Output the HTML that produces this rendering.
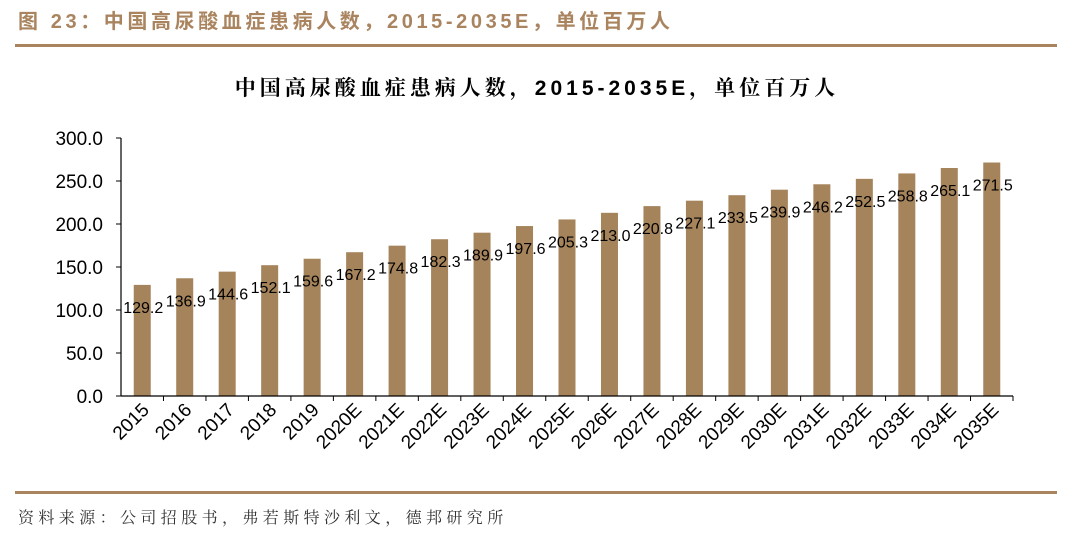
<!DOCTYPE html>
<html><head><meta charset="utf-8">
<style>
body{margin:0;background:#fff;width:1080px;height:539px;overflow:hidden;font-family:"Liberation Sans","Noto Sans CJK SC",sans-serif;}
</style></head><body>
<svg width="1080" height="539" xmlns="http://www.w3.org/2000/svg">
<text x="18" y="28" font-size="20" font-weight="bold" fill="#a9845f" letter-spacing="3.6" font-family="Liberation Sans, Noto Sans CJK SC, sans-serif">图 23：中国高尿酸血症患病人数，2015-2035E，单位百万人</text>
<rect x="15" y="44" width="1042" height="3" fill="#a9845f"/>
<text x="537" y="95" text-anchor="middle" font-size="21" font-weight="bold" fill="#000" letter-spacing="4" font-family="Liberation Sans, Noto Serif CJK SC, sans-serif">中国高尿酸血症患病人数，2015-2035E，单位百万人</text>
<g id="plot"></g>
<rect x="15" y="491" width="1042" height="3" fill="#a9845f"/>
<text x="18" y="523" font-size="16" fill="#333" letter-spacing="4.4" font-family="Liberation Sans, Noto Serif CJK SC, sans-serif">资料来源：公司招股书，弗若斯特沙利文，德邦研究所</text>
</svg>
<script>
const categories=["2015","2016","2017","2018","2019","2020E","2021E","2022E","2023E","2024E","2025E","2026E","2027E","2028E","2029E","2030E","2031E","2032E","2033E","2034E","2035E"];
const values=[129.2,136.9,144.6,152.1,159.6,167.2,174.8,182.3,189.9,197.6,205.3,213.0,220.8,227.1,233.5,239.9,246.2,252.5,258.8,265.1,271.5];
const yTicks=[0,50,100,150,200,250,300];
const NS="http://www.w3.org/2000/svg";
const g=document.getElementById('plot');
const x0=121,x1=1013,y0=396,yTop=138;
const y=v=>y0-(v/300)*(y0-yTop);
const step=(x1-x0)/categories.length;
const xc=i=>x0+step*(i+0.5);
function mk(t,a){const e=document.createElementNS(NS,t);for(const k in a)e.setAttribute(k,a[k]);g.appendChild(e);return e;}
yTicks.forEach(v=>{
 const tk=mk('line',{x1:x0-5,x2:x0,y1:y(v),y2:y(v),stroke:'#000','stroke-width':1});
 
 
 const t=mk('text',{x:x0-18,y:y(v)+7,'text-anchor':'end','font-size':19,fill:'#000'});
 t.textContent=v.toFixed(1);
 
 
});
values.forEach((v,i)=>{
 const b=mk('rect',{x:xc(i)-8.5,y:y(v),width:17,height:y0-y(v),fill:'#a5835b'});
 
 
 const l=mk('text',{x:xc(i)+1,y:y(v)+28,'text-anchor':'middle','font-size':16,fill:'#000'});
 l.textContent=v.toFixed(1);
 
 
 const tk=mk('line',{x1:x0+step*(i+1),x2:x0+step*(i+1),y1:y0,y2:y0+5,stroke:'#000','stroke-width':1});
 
 
 const c=mk('text',{x:xc(i)+8,y:y0+15,'text-anchor':'end','font-size':19,fill:'#000',transform:`rotate(-45 ${xc(i)+8} ${y0+15})`});
 c.textContent=categories[i];
 
 
});
const ya=mk('line',{x1:x0,x2:x0,y1:yTop,y2:y0,stroke:'#000','stroke-width':1.2});


const xa=mk('line',{x1:x0,x2:x1,y1:y0,y2:y0,stroke:'#000','stroke-width':1.2});


</script>
</body></html>
